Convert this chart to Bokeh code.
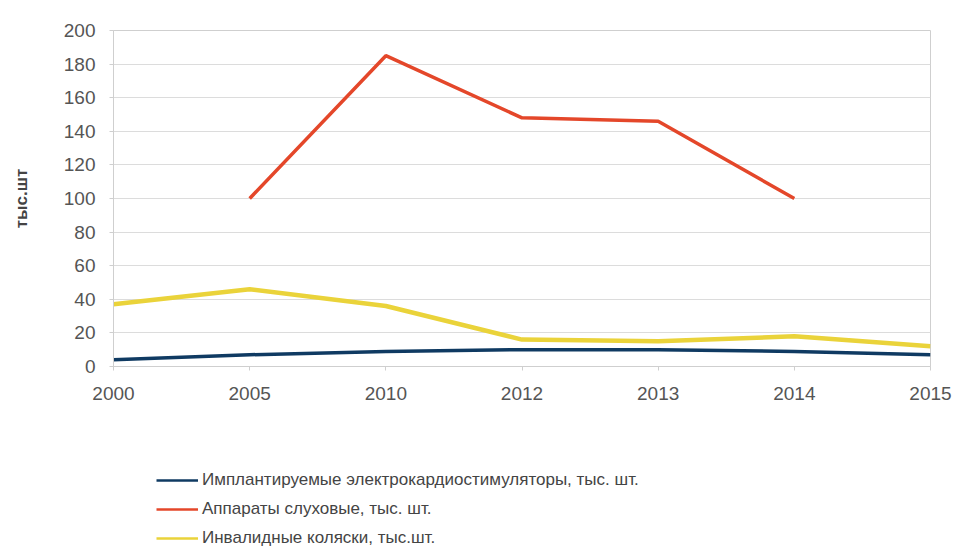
from bokeh.plotting import figure
from bokeh.layouts import column
from bokeh.models import Range1d, FixedTicker, Legend, LegendItem, ColumnDataSource
from bokeh.embed import file_html
from bokeh.resources import INLINE
import math

years = ["2000", "2005", "2010", "2012", "2013", "2014", "2015"]
pacemakers = [4, 7, 9, 10, 10, 9, 7]
hearing_aids = [math.nan, 100, 185, 148, 146, 100, math.nan]
wheelchairs = [37, 46, 36, 16, 15, 18, 12]

names = [
    "Имплантируемые электрокардиостимуляторы, тыс. шт.",
    "Аппараты слуховые, тыс. шт.",
    "Инвалидные коляски, тыс.шт.",
]
y_ticks = [0, 20, 40, 60, 80, 100, 120, 140, 160, 180, 200]
colors = ["#0f3a62", "#e4472a", "#ead33a"]
widths = [3.5, 3.5, 4.5]

xs = list(range(len(years)))

p = figure(width=953, height=409, output_backend="svg", toolbar_location=None,
           x_range=Range1d(0, len(years) - 1), y_range=Range1d(0, 200),
           min_border_left=113, min_border_right=23, min_border_top=30,
           min_border_bottom=43)

p.background_fill_color = "white"
p.border_fill_color = "white"
p.outline_line_color = "#cfcfcf"
p.outline_line_width = 1

src = ColumnDataSource(dict(x=xs, a=pacemakers, b=hearing_aids, c=wheelchairs))
for col, c, w in zip(["a", "b", "c"], colors, widths):
    p.line("x", col, source=src, line_color=c, line_width=w)

# axes
p.xaxis.ticker = FixedTicker(ticks=xs)
p.xaxis.major_label_overrides = {i: y for i, y in enumerate(years)}
p.yaxis.ticker = FixedTicker(ticks=y_ticks)
for ax in (p.xaxis[0], p.yaxis[0]):
    ax.axis_line_color = "#cfcfcf"
    ax.major_tick_line_color = "#cfcfcf"
    ax.major_tick_out = 4
    ax.major_tick_in = 0
    ax.minor_tick_line_color = None
    ax.major_label_text_font = "Liberation Sans"
    ax.major_label_text_font_size = "19px"
    ax.major_label_text_color = "#555555"
p.xaxis.major_label_standoff = 16
p.yaxis.major_label_standoff = 14
p.yaxis.axis_label = "тыс.шт"
p.yaxis.axis_label_text_font = "Liberation Sans"
p.yaxis.axis_label_text_font_size = "17px"
p.yaxis.axis_label_text_font_style = "bold"
p.yaxis.axis_label_text_color = "#444444"
p.yaxis.axis_label_standoff = 30

p.xgrid.grid_line_color = None
p.ygrid.grid_line_color = "#dcdcdc"
p.ygrid.grid_line_width = 1

# legend figure below the chart (its swatches use off-screen copies of the series)
q = figure(width=953, height=139, output_backend="svg", toolbar_location=None,
           x_range=Range1d(0, 1), y_range=Range1d(0, 1),
           min_border=0, min_border_left=0, min_border_right=0,
           min_border_top=0, min_border_bottom=0)
q.axis.visible = False
q.grid.visible = False
q.outline_line_color = None
q.background_fill_color = "white"
q.border_fill_color = "white"
items = []
for name, c in zip(names, colors):
    r = q.line(x=[-5, -4], y=[-5, -4], line_color=c, line_width=2.5)
    items.append(LegendItem(label=name, renderers=[r]))

legend = Legend(items=items, orientation="vertical")
legend.location = (43, 0)
legend.glyph_width = 42
legend.glyph_height = 20
legend.label_height = 20
legend.spacing = 9
legend.padding = 2
legend.margin = 0
legend.label_standoff = 4
legend.label_text_font = "Liberation Sans"
legend.label_text_font_size = "17px"
legend.label_text_color = "#444444"
legend.border_line_color = None
legend.background_fill_alpha = 0
q.add_layout(legend, "center")

layout = column(p, q, spacing=0)
open("out.html", "w").write(file_html(layout, INLINE))
